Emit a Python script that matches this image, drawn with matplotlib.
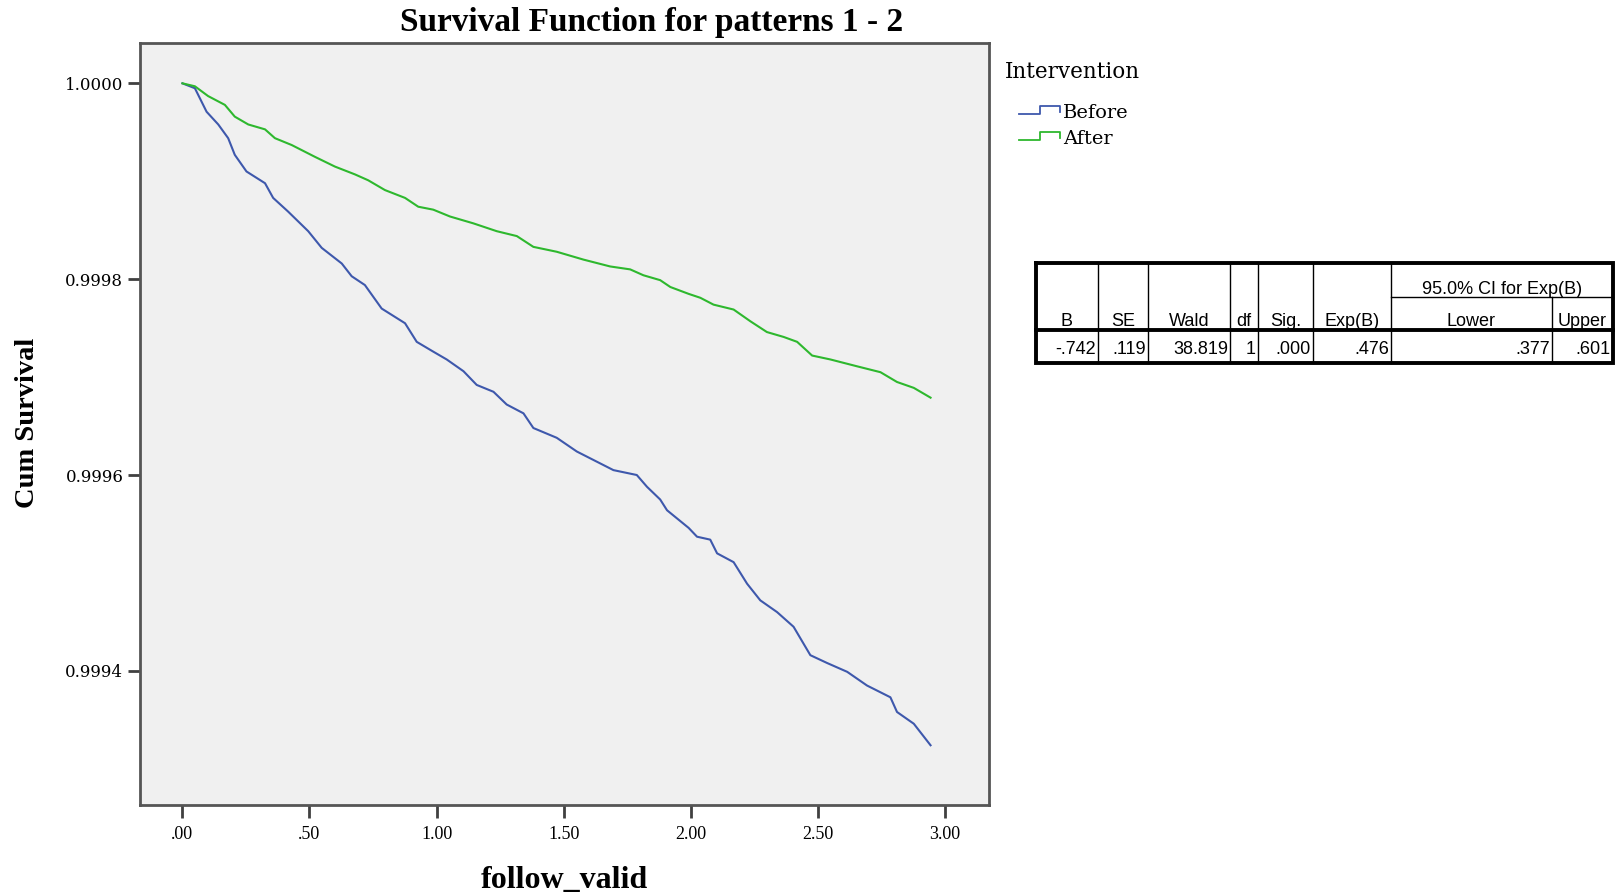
import matplotlib.pyplot as plt
from matplotlib.lines import Line2D

# Survival curves
before_t = [0.0, 0.049, 0.095, 0.141, 0.180, 0.206, 0.252, 0.325, 0.357, 0.416, 0.495,
            0.548, 0.627, 0.666, 0.718, 0.784, 0.876, 0.922, 0.987, 1.040, 1.106,
            1.158, 1.224, 1.276, 1.342, 1.381, 1.473, 1.552, 1.605, 1.696, 1.788,
            1.828, 1.880, 1.907, 1.992, 2.025, 2.077, 2.104, 2.169, 2.222, 2.274,
            2.340, 2.405, 2.471, 2.537, 2.616, 2.694, 2.786, 2.812, 2.878, 2.944]
before_s = [1.0, 0.999995, 0.999971, 0.999958, 0.999944, 0.999927, 0.999910, 0.999898,
            0.999883, 0.999869, 0.999849, 0.999832, 0.999816, 0.999803, 0.999794,
            0.999770, 0.999755, 0.999736, 0.999726, 0.999718, 0.999706, 0.999692,
            0.999685, 0.999672, 0.999663, 0.999648, 0.999638, 0.999624, 0.999617,
            0.999605, 0.999600, 0.999588, 0.999575, 0.999564, 0.999546, 0.999537,
            0.999534, 0.999520, 0.999511, 0.999489, 0.999472, 0.999460, 0.999445,
            0.999416, 0.999408, 0.999399, 0.999385, 0.999373, 0.999358, 0.999346,
            0.999324]
after_t = [0.0, 0.049, 0.101, 0.167, 0.206, 0.259, 0.325, 0.364, 0.430, 0.521, 0.600,
           0.679, 0.731, 0.797, 0.876, 0.928, 0.987, 1.053, 1.145, 1.237, 1.316,
           1.381, 1.473, 1.578, 1.683, 1.762, 1.814, 1.880, 1.920, 1.992, 2.038,
           2.090, 2.169, 2.235, 2.300, 2.366, 2.419, 2.478, 2.550, 2.655, 2.747,
           2.812, 2.878, 2.944]
after_s = [1.0, 0.999997, 0.999987, 0.999978, 0.999966, 0.999958, 0.999953, 0.999944,
           0.999937, 0.999925, 0.999915, 0.999907, 0.999901, 0.999891, 0.999883,
           0.999874, 0.999871, 0.999864, 0.999857, 0.999849, 0.999844, 0.999833,
           0.999828, 0.999820, 0.999813, 0.999810, 0.999804, 0.999799, 0.999792,
           0.999785, 0.999781, 0.999774, 0.999769, 0.999757, 0.999746, 0.999741,
           0.999736, 0.999722, 0.999718, 0.999711, 0.999705, 0.999695, 0.999689,
           0.999679]

xticks = [0.0, 0.5, 1.0, 1.5, 2.0, 2.5, 3.0]
xtick_labels = ['.00', '.50', '1.00', '1.50', '2.00', '2.50', '3.00']
yticks = [0.9994, 0.9996, 0.9998, 1.0]
ytick_labels = ['0.9994', '0.9996', '0.9998', '1.0000']

groups = ['Before', 'After']
colors = ['#3e58ac', '#2eb82e']

# Cox regression table
tab_headers = ['B', 'SE', 'Wald', 'df', 'Sig.', 'Exp(B)', 'Lower', 'Upper']
tab_values = ['-.742', '.119', '38.819', '1', '.000', '.476', '.377', '.601']
ci_label = '95.0% CI for Exp(B)'

W, H = 1618, 892
fig = plt.figure(figsize=(W / 100, H / 100), dpi=100)
fig.patch.set_facecolor('white')

ax = fig.add_axes([140 / W, 1 - 805 / H, (989 - 140) / W, (805 - 43) / H])
ax.set_facecolor('#f0f0f0')
ax.plot(before_t, before_s, color=colors[0], lw=1.5)
ax.plot(after_t, after_s, color=colors[1], lw=1.5)
ax.set_xlim(-0.167, 3.174)
ax.set_ylim(0.999263, 1.0000412)
ax.set_xticks(xticks)
ax.set_xticklabels(xtick_labels, family='Liberation Serif', fontsize=13)
ax.set_yticks(yticks)
ax.set_yticklabels(ytick_labels, family='DejaVu Serif', fontsize=12)
ax.tick_params(axis='both', direction='out', length=9, width=2, color='#404040',
               pad=3)
ax.tick_params(axis='x', pad=6)
for sp in ax.spines.values():
    sp.set_color('#555555')
    sp.set_linewidth(2)

fig.text(652 / W, 1 - 22 / H, 'Survival Function for patterns 1 - 2', ha='center',
         va='center', family='Liberation Serif', fontweight='bold', fontsize=24)
fig.text(28 / W, 1 - 423 / H, 'Cum Survival', rotation=90, ha='center', va='center',
         family='Liberation Serif', fontweight='bold', fontsize=20.5)
fig.text(564 / W, 1 - 880 / H, 'follow_valid', ha='center', va='center',
         family='Liberation Serif', fontweight='bold', fontsize=23)

# legend drawn by hand, SPSS style
fig.text(1005 / W, 1 - 72 / H, 'Intervention', ha='left', va='center',
         family='DejaVu Serif', fontsize=15.5)
for i, (g, c) in enumerate(zip(groups, colors)):
    yc = 114 + i * 26
    xs = [1019, 1040, 1040, 1060, 1060]
    ys = [yc, yc, yc - 8, yc - 8, yc - 2]
    fig.add_artist(Line2D([x / W for x in xs], [1 - y / H for y in ys], color=c,
                          lw=1.3, transform=fig.transFigure))
    fig.text(1063 / W, 1 - (yc - 1) / H, g, ha='left', va='center',
             family='DejaVu Serif', fontsize=14)

# table
tx = fig.add_axes([0, 0, 1, 1])
tx.set_xlim(0, W)
tx.set_ylim(H, 0)
tx.axis('off')
cols = [1036, 1098, 1148, 1230, 1258, 1313, 1391, 1552, 1613]
top, mid, hdr, bot = 263, 297, 330, 363
tx.plot([cols[0], cols[-1], cols[-1], cols[0], cols[0]], [top, top, bot, bot, top],
        color='black', lw=2.8, solid_joinstyle='miter')
tx.plot([cols[0], cols[-1]], [hdr, hdr], color='black', lw=2.8)
for i, x in enumerate(cols[1:-1], start=1):
    y0 = mid if i == 7 else top
    tx.plot([x, x], [y0, bot], color='black', lw=1)
tx.plot([cols[6], cols[-1]], [mid, mid], color='black', lw=1)
tx.text((cols[6] + cols[-1]) / 2, 289, ci_label, ha='center', va='center',
        family='Liberation Sans', fontsize=13)
for i in range(len(tab_headers)):
    tx.text((cols[i] + cols[i + 1]) / 2, 322, tab_headers[i], ha='center', va='center',
            family='Liberation Sans', fontsize=13)
    tx.text(cols[i + 1] - 2, 349, tab_values[i], ha='right', va='center',
            family='Liberation Sans', fontsize=13)

fig.savefig('out.png', dpi=100)
